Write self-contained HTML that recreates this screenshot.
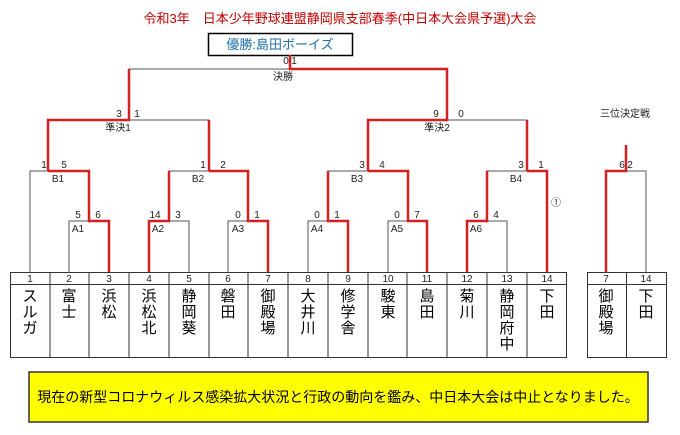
<!DOCTYPE html><html><head><meta charset="utf-8"><style>
body{margin:0;background:#fff}
svg{display:block}
text{font-family:"Liberation Sans","Noto Sans CJK JP",sans-serif}
.s{font-size:10px;fill:#222}
.t{font-size:15px;fill:#000}
</style></head><body>
<svg width="680" height="435" viewBox="0 0 680 435" xmlns="http://www.w3.org/2000/svg">
<text x="340" y="23" text-anchor="middle" style="font-size:13px;fill:#c00000">令和3年　日本少年野球連盟静岡県支部春季(中日本大会県予選)大会</text>
<rect x="208.5" y="33.5" width="144" height="22" fill="#fff" stroke="#000" stroke-width="1.5"/>
<text x="280" y="49" text-anchor="middle" style="font-size:13px;fill:#1f6fa8">優勝:島田ボーイズ</text>
<g fill="none" stroke="#555" stroke-width="1">
<path d="M129,120V69H447V120"/>
<path d="M48,171V120H209V171"/><path d="M368,171V120H527V171"/>
<path d="M30,272V171H89V221"/><path d="M169,221V171H248V221"/>
<path d="M328,221V171H408V221"/><path d="M487,221V171H547V272"/>
<path d="M69,272V221H109V272"/><path d="M149,272V221H189V272"/><path d="M228,272V221H268V272"/>
<path d="M308,272V221H348V272"/><path d="M388,272V221H427V272"/><path d="M467,272V221H507V272"/>
<path d="M606,272V171H646V272"/>
</g>
<g fill="none" stroke="#d42020" stroke-width="2.5">
<path d="M290,55V69H447V120H368V171"/>
<path d="M129,69V120H48V171"/><path d="M209,120V171"/><path d="M527,120V171"/>
<path d="M48,171H89V221H109V272"/>
<path d="M149,272V221H169V171"/><path d="M209,171H248V221H268V272"/>
<path d="M328,171V221H348V272"/>
<path d="M368,171H408V221H427V272"/>
<path d="M467,272V221H487V171"/><path d="M527,171H547V272"/>
<path d="M626,145V171H606V272"/>
</g>
<g class="s" text-anchor="middle">
<text x="286" y="64">0</text><text x="294" y="64">1</text><text x="283" y="80">決勝</text>
<text x="119" y="117">3</text><text x="137" y="117">1</text><text x="118" y="131">準決1</text>
<text x="436" y="117">9</text><text x="461" y="117">0</text><text x="437" y="131">準決2</text>
<text x="625" y="117">三位決定戦</text>
<text x="44" y="168">1</text><text x="64" y="168">5</text><text x="58" y="182">B1</text>
<text x="203" y="168">1</text><text x="223" y="168">2</text><text x="198" y="182">B2</text>
<text x="362" y="168">3</text><text x="382" y="168">4</text><text x="357" y="182">B3</text>
<text x="521" y="168">3</text><text x="541" y="168">1</text><text x="516" y="182">B4</text>
<text x="622" y="168">6</text><text x="630" y="168">2</text>
<text x="556" y="206">①</text>
<text x="78" y="218">5</text><text x="98" y="218">6</text><text x="78" y="232">A1</text>
<text x="155" y="218">14</text><text x="178" y="218">3</text><text x="158" y="232">A2</text>
<text x="238" y="218">0</text><text x="257" y="218">1</text><text x="238" y="232">A3</text>
<text x="317" y="218">0</text><text x="337" y="218">1</text><text x="317" y="232">A4</text>
<text x="397" y="218">0</text><text x="417" y="218">7</text><text x="397" y="232">A5</text>
<text x="476" y="218">6</text><text x="496" y="218">4</text><text x="476" y="232">A6</text>
</g>
<g fill="none" stroke="#333" stroke-width="1">
<rect x="10.5" y="272.5" width="556" height="85"/><line x1="10" y1="284.5" x2="567" y2="284.5"/>
<path d="M50,272V358M89,272V358M129,272V358M169,272V358M209,272V358M248,272V358M288,272V358M328,272V358M368,272V358M407,272V358M447,272V358M487,272V358M527,272V358"/>
<rect x="587.5" y="272.5" width="79" height="85"/><line x1="587" y1="284.5" x2="667" y2="284.5"/><line x1="626.5" y1="272" x2="626.5" y2="358"/>
</g>
<g class="s" text-anchor="middle">
<text x="30" y="282">1</text><text x="69" y="282">2</text><text x="109" y="282">3</text><text x="149" y="282">4</text><text x="189" y="282">5</text><text x="228" y="282">6</text><text x="268" y="282">7</text><text x="308" y="282">8</text><text x="348" y="282">9</text><text x="388" y="282">10</text><text x="427" y="282">11</text><text x="467" y="282">12</text><text x="507" y="282">13</text><text x="547" y="282">14</text><text x="606" y="282">7</text><text x="646" y="282">14</text>
</g>
<g class="t" text-anchor="middle">
<text x="30" y="301">ス</text><text x="30" y="317">ル</text><text x="30" y="333">ガ</text>
<text x="69" y="301">富</text><text x="69" y="317">士</text>
<text x="109" y="301">浜</text><text x="109" y="317">松</text>
<text x="149" y="301">浜</text><text x="149" y="317">松</text><text x="149" y="333">北</text>
<text x="189" y="301">静</text><text x="189" y="317">岡</text><text x="189" y="333">葵</text>
<text x="228" y="301">磐</text><text x="228" y="317">田</text>
<text x="268" y="301">御</text><text x="268" y="317">殿</text><text x="268" y="333">場</text>
<text x="308" y="301">大</text><text x="308" y="317">井</text><text x="308" y="333">川</text>
<text x="348" y="301">修</text><text x="348" y="317">学</text><text x="348" y="333">舎</text>
<text x="388" y="301">駿</text><text x="388" y="317">東</text>
<text x="427" y="301">島</text><text x="427" y="317">田</text>
<text x="467" y="301">菊</text><text x="467" y="317">川</text>
<text x="507" y="301">静</text><text x="507" y="317">岡</text><text x="507" y="333">府</text><text x="507" y="349">中</text>
<text x="547" y="301">下</text><text x="547" y="317">田</text>
<text x="606" y="301">御</text><text x="606" y="317">殿</text><text x="606" y="333">場</text>
<text x="646" y="301">下</text><text x="646" y="317">田</text>
</g>
<rect x="29" y="372" width="619" height="50" fill="#ffff00" stroke="#333" stroke-width="1.5"/>
<text x="338" y="402" text-anchor="middle" style="font-size:14px;fill:#000">現在の新型コロナウィルス感染拡大状況と行政の動向を鑑み、中日本大会は中止となりました。</text>
</svg>
</body></html>
